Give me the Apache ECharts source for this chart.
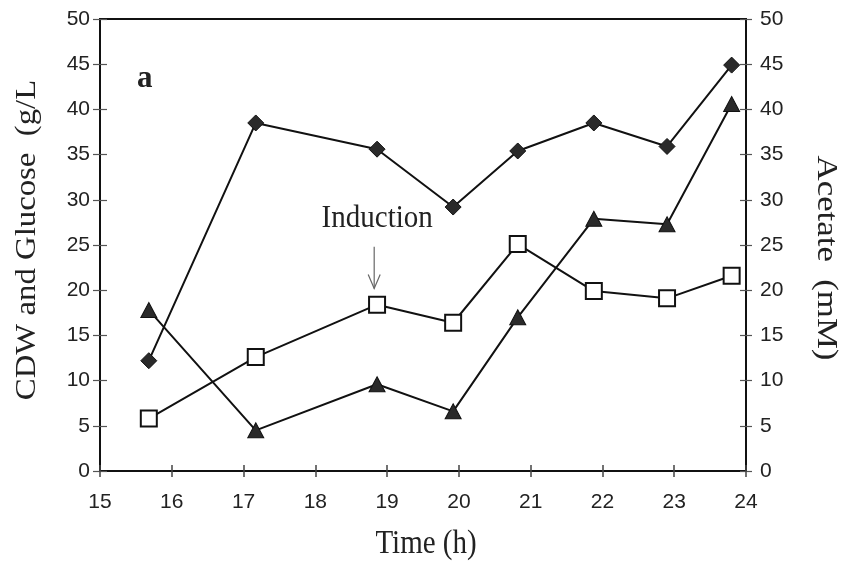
<!DOCTYPE html>
<html>
<head>
<meta charset="utf-8">
<script src="https://cdn.jsdelivr.net/npm/echarts@6/dist/echarts.min.js"></script>
<style>
  html, body { margin: 0; padding: 0; background: #fff; }
  #chart { width: 843px; height: 562px; }
</style>
</head>
<body>
<div id="chart"></div>
<script>
// Sampling times (h)
const times = [15.68, 17.17, 18.86, 19.92, 20.82, 21.88, 22.9, 23.8];
// Cell dry weight (g/L) - filled diamonds
const cdw = [12.2, 38.5, 35.6, 29.2, 35.4, 38.5, 35.9, 44.9];
// Glucose (g/L) - open squares
const glucose = [5.8, 12.6, 18.4, 16.4, 25.1, 19.9, 19.1, 21.6];
// Acetate (mM) - filled triangles, right axis
const acetate = [17.8, 4.5, 9.6, 6.6, 17.0, 27.9, 27.3, 40.6];
// Induction point (time, value) and arrow length in axis units
const inductionAt = [18.82, 20.2];
const inductionArrowLen = 4.6;

const pairs = ys => ys.map((v, i) => [times[i], v]);

const serif = 'Liberation Serif';
const sans = 'Liberation Sans';
const ink = '#111';

const tickLabel = { fontFamily: sans, fontSize: 21, color: '#222' };

const chart = echarts.init(document.getElementById('chart'), null, { renderer: 'canvas' });

const baseX = { type: 'value', min: 15, max: 24, interval: 1, splitLine: { show: false } };
const baseY = { type: 'value', min: 0, max: 50, interval: 5, splitLine: { show: false } };

chart.setOption({
  backgroundColor: '#fff',
  animation: false,
  grid: {
    left: 100, right: 97, top: 19, bottom: 91,
    show: true, borderColor: ink, borderWidth: 2, backgroundColor: 'transparent'
  },
  xAxis: [
    Object.assign({}, baseX, {
      position: 'bottom',
      axisLine: { show: true, lineStyle: { color: ink, width: 2 } },
      axisTick: { show: true, inside: false, length: 6, lineStyle: { color: '#444', width: 1.5 } },
      axisLabel: Object.assign({ margin: 21 }, tickLabel)
    }),
    Object.assign({}, baseX, {
      position: 'bottom',
      axisLine: { show: false },
      axisTick: { show: true, inside: true, length: 6, lineStyle: { color: '#444', width: 1.5 } },
      axisLabel: { show: false }
    })
  ],
  yAxis: [
    Object.assign({}, baseY, {
      position: 'left',
      axisLine: { show: true, lineStyle: { color: ink, width: 2 } },
      axisTick: { show: true, inside: false, length: 7, lineStyle: { color: '#555', width: 1.2 } },
      axisLabel: Object.assign({ margin: 10 }, tickLabel)
    }),
    Object.assign({}, baseY, {
      position: 'right',
      axisLine: { show: true, lineStyle: { color: ink, width: 2 } },
      axisTick: { show: true, inside: false, length: 6, lineStyle: { color: '#555', width: 1.2 } },
      axisLabel: Object.assign({ margin: 14 }, tickLabel)
    }),
    Object.assign({}, baseY, {
      position: 'left',
      axisLine: { show: false },
      axisTick: { show: true, inside: true, length: 7, lineStyle: { color: '#555', width: 1.2 } },
      axisLabel: { show: false }
    }),
    Object.assign({}, baseY, {
      position: 'right',
      axisLine: { show: false },
      axisTick: { show: true, inside: true, length: 6, lineStyle: { color: '#555', width: 1.2 } },
      axisLabel: { show: false }
    })
  ],
  series: [
    {
      name: 'CDW', type: 'line', xAxisIndex: 0, yAxisIndex: 0,
      data: pairs(cdw),
      symbol: 'diamond', symbolSize: 16,
      lineStyle: { color: ink, width: 2 },
      itemStyle: { color: '#2a2a2a', borderColor: '#111', borderWidth: 1 },
      z: 3
    },
    {
      name: 'Glucose', type: 'line', xAxisIndex: 0, yAxisIndex: 0,
      data: pairs(glucose),
      symbol: 'rect', symbolSize: 16,
      lineStyle: { color: ink, width: 2 },
      itemStyle: { color: '#fff', borderColor: '#111', borderWidth: 2 },
      z: 4
    },
    {
      name: 'Acetate', type: 'line', xAxisIndex: 0, yAxisIndex: 1,
      data: pairs(acetate),
      symbol: 'triangle', symbolSize: [16, 15],
      lineStyle: { color: ink, width: 2 },
      itemStyle: { color: '#2a2a2a', borderColor: '#111', borderWidth: 1 },
      z: 3
    }
  ]
});

// Annotations placed from data coordinates
const tip = chart.convertToPixel({ xAxisIndex: 0, yAxisIndex: 0 }, inductionAt);
const tail = chart.convertToPixel({ xAxisIndex: 0, yAxisIndex: 0 },
  [inductionAt[0], inductionAt[1] + inductionArrowLen]);
const gp = chart.getModel().getComponent('grid').coordinateSystem.getRect();

chart.setOption({
  graphic: [
    {
      type: 'text', left: gp.x + 37, top: 63,
      style: { text: 'a', font: 'bold 31px "' + serif + '"', fill: '#222' }
    },
    {
      type: 'text', x: tip[0] + 3, y: tail[1] - 28,
      style: { text: 'Induction', font: '29px "' + serif + '"', fill: '#222', textAlign: 'center', textVerticalAlign: 'middle' },
      scaleY: 1.1
    },
    {
      type: 'polyline',
      shape: { points: [[tail[0], tail[1]], [tip[0], tip[1]]] },
      style: { stroke: '#666', lineWidth: 1.2, fill: null }
    },
    {
      type: 'polyline',
      shape: { points: [[tip[0] - 6, tip[1] - 14], [tip[0], tip[1]], [tip[0] + 6, tip[1] - 14]] },
      style: { stroke: '#666', lineWidth: 1.2, fill: null }
    },
    {
      type: 'text', x: 27, y: 240, rotation: Math.PI / 2,
      style: { text: 'CDW and Glucose  (g/L', font: '29px "' + serif + '"', fill: '#222', textAlign: 'center', textVerticalAlign: 'middle' },
      scaleX: 1.13
    },
    {
      type: 'text', x: 826, y: 258, rotation: -Math.PI / 2,
      style: { text: 'Acetate  (mM)', font: '29px "' + serif + '"', fill: '#222', textAlign: 'center', textVerticalAlign: 'middle' },
      scaleX: 1.2
    },
    {
      type: 'text', x: gp.x + gp.width / 2 + 3, y: 544,
      style: { text: 'Time (h)', font: '29px "' + serif + '"', fill: '#222', textAlign: 'center', textVerticalAlign: 'middle' },
      scaleY: 1.15
    }
  ]
});
</script>
</body>
</html>
